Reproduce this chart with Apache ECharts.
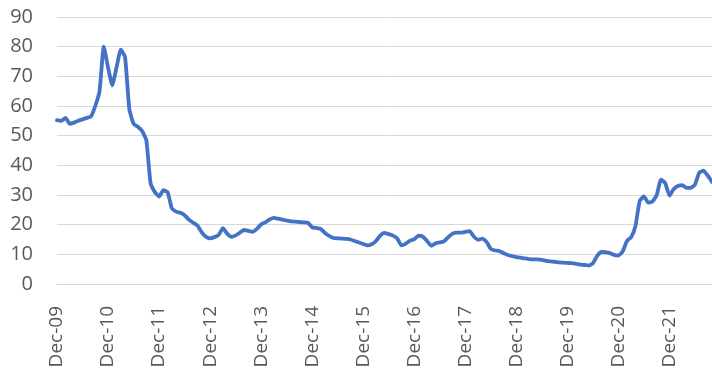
<!DOCTYPE html>
<html>
<head>
<meta charset="utf-8">
<script src="https://cdn.jsdelivr.net/npm/echarts@6/dist/echarts.min.js"></script>
<style>
html,body{margin:0;padding:0;background:#fff;}
#chart{width:712px;height:375px;}
</style>
</head>
<body>
<div id="chart"></div>
<script>
// Tick labels shown every 12 months (Dec of each year)
var tickLabels = ['Dec-09','Dec-10','Dec-11','Dec-12','Dec-13','Dec-14','Dec-15','Dec-16','Dec-17','Dec-18','Dec-19','Dec-20','Dec-21'];

// Monthly values, Dec-09 .. Oct-22
var values = [
  55.2, 55.0, 56.0, 54.0, 54.4, 55.0, 55.5, 56.0, 56.5, 60.0,
  65.0, 80.0, 73.0, 67.0, 73.0, 79.0, 76.5, 59.0, 54.0, 53.0,
  51.6, 48.5, 34.0, 31.0, 29.5, 31.6, 31.0, 25.5, 24.4, 24.0,
  23.2, 21.7, 20.7, 19.7, 17.5, 15.9, 15.4, 15.8, 16.5, 18.8,
  17.0, 15.9, 16.4, 17.3, 18.2, 17.9, 17.6, 18.6, 20.1, 20.8,
  21.8, 22.3, 22.0, 21.7, 21.4, 21.1, 21.0, 20.9, 20.8, 20.6,
  19.1, 18.9, 18.6, 17.2, 16.2, 15.5, 15.4, 15.3, 15.2, 15.0,
  14.5, 14.0, 13.5, 13.0, 13.4, 14.5, 16.3, 17.2, 16.8, 16.3,
  15.3, 13.0, 13.6, 14.6, 15.1, 16.3, 16.0, 14.5, 12.9, 13.7,
  14.0, 14.4, 15.8, 17.0, 17.3, 17.3, 17.6, 17.8, 16.0, 14.9,
  15.3, 14.2, 11.8, 11.3, 11.1, 10.4, 9.8, 9.4, 9.1, 8.9,
  8.6, 8.4, 8.3, 8.3, 8.1, 7.8, 7.6, 7.5, 7.3, 7.2,
  7.1, 7.0, 6.8, 6.5, 6.4, 6.2, 7.0, 9.5, 10.8, 10.7,
  10.4, 9.8, 9.6, 11.0, 14.5, 15.8, 19.5, 28.0, 29.5, 27.4,
  27.8, 30.0, 35.2, 34.0, 29.8, 32.0, 33.0, 33.3, 32.4, 32.4,
  33.5, 37.5, 38.2, 36.5, 34.4
];

var categories = values.map(function (v, i) { return i; });

var chart = echarts.init(document.getElementById('chart'));
chart.setOption({
  animation: false,
  backgroundColor: '#ffffff',
  grid: { left: 57, right: 0, top: 17, bottom: 91, containLabel: false },
  xAxis: {
    type: 'category',
    data: categories,
    boundaryGap: false,
    axisLine: { show: true, lineStyle: { color: '#d9d9d9', width: 1 } },
    axisTick: { show: false },
    splitLine: { show: false },
    axisLabel: {
      interval: 11,
      rotate: 90,
      margin: 22,
      color: '#595959',
      fontSize: 19,
      fontFamily: 'Open Sans',
      formatter: function (v, idx) {
        var k = idx / 12;
        return (idx % 12 === 0 && tickLabels[k]) ? tickLabels[k] : '';
      }
    }
  },
  yAxis: {
    type: 'value',
    min: 0,
    max: 90,
    interval: 10,
    axisLine: { show: false },
    axisTick: { show: false },
    splitLine: { show: true, lineStyle: { color: '#d9d9d9', width: 1 } },
    axisLabel: {
      color: '#595959',
      fontSize: 20,
      fontFamily: 'Open Sans',
      margin: 24
    }
  },
  series: [{
    type: 'line',
    data: values,
    symbol: 'none',
    smooth: 0.15,
    lineStyle: { color: '#4472C4', width: 3.8, join: 'round', cap: 'round' }
  }]
});
</script>
</body>
</html>
